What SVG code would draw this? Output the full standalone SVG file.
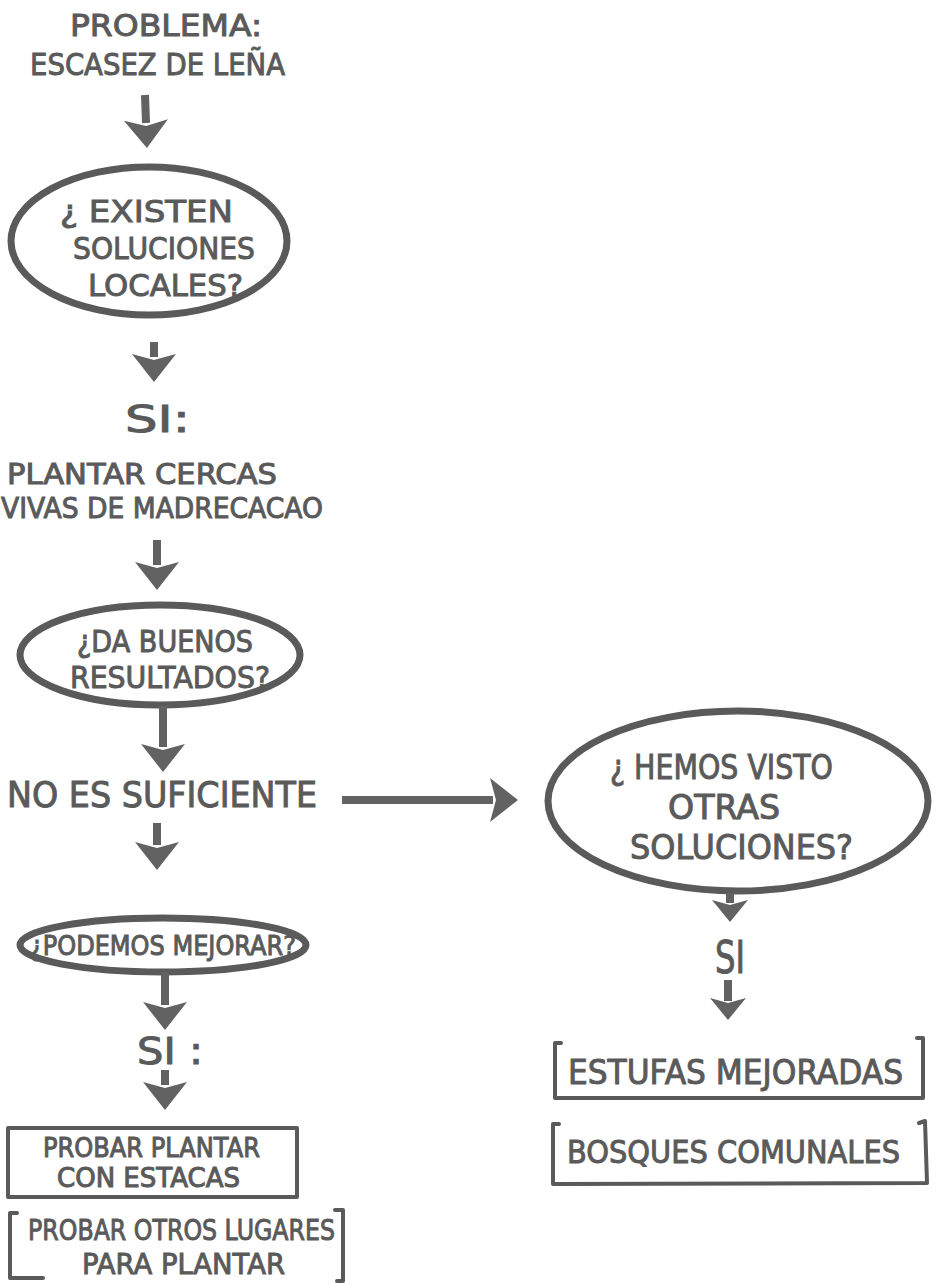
<svg xmlns="http://www.w3.org/2000/svg" width="936" height="1283" viewBox="0 0 936 1283">
<style>
.t{font-family:"DejaVu Sans","Liberation Sans",sans-serif;fill:#5a5a5a;stroke:#5a5a5a;stroke-width:1}
.ell{fill:none;stroke:#5a5a5a;stroke-width:7}
.box{fill:none;stroke:#5a5a5a;stroke-width:4;stroke-linecap:round;stroke-linejoin:round}
.arr{stroke:#626262;stroke-width:8;fill:none}
</style>
<defs>
<marker id="ah" markerUnits="userSpaceOnUse" markerWidth="32" markerHeight="46" refX="3" refY="23" orient="auto">
<path d="M0,1 L28,23 L0,45 L6,23 Z" fill="#626262"/>
</marker>
<marker id="ahs" markerUnits="userSpaceOnUse" markerWidth="26" markerHeight="38" refX="3" refY="19" orient="auto">
<path d="M0,1 L22,19 L0,37 L5,19 Z" fill="#626262"/>
</marker>
</defs>
<rect width="936" height="1283" fill="#ffffff"/>

<g id="n-problema">
<text class="t" x="70" y="36" font-size="31" textLength="192" lengthAdjust="spacingAndGlyphs">PROBLEMA:</text>
<text class="t" x="30" y="75" font-size="31" textLength="255" lengthAdjust="spacingAndGlyphs">ESCASEZ DE LEÑA</text>
</g>

<g id="n-existen">
<ellipse class="ell" cx="149" cy="241" rx="138" ry="74"/>
<text class="t" x="60" y="222" font-size="31" textLength="173" lengthAdjust="spacingAndGlyphs">¿ EXISTEN</text>
<text class="t" x="73" y="259" font-size="31" textLength="182" lengthAdjust="spacingAndGlyphs">SOLUCIONES</text>
<text class="t" x="88" y="296" font-size="31" textLength="155" lengthAdjust="spacingAndGlyphs">LOCALES?</text>
</g>

<g id="n-si1">
<text class="t" x="125" y="432" font-size="38" textLength="65" lengthAdjust="spacingAndGlyphs">SI:</text>
</g>

<g id="n-plantar">
<text class="t" x="7" y="484" font-size="28" textLength="270" lengthAdjust="spacingAndGlyphs">PLANTAR CERCAS</text>
<text class="t" x="1" y="518" font-size="28" textLength="322" lengthAdjust="spacingAndGlyphs">VIVAS DE MADRECACAO</text>
</g>

<g id="n-buenos">
<ellipse class="ell" cx="160" cy="655" rx="140" ry="50"/>
<text class="t" x="77" y="652" font-size="30" textLength="176" lengthAdjust="spacingAndGlyphs">¿DA BUENOS</text>
<text class="t" x="70" y="688" font-size="30" textLength="200" lengthAdjust="spacingAndGlyphs">RESULTADOS?</text>
</g>

<g id="n-nosuf">
<text class="t" x="7" y="807" font-size="36" textLength="310" lengthAdjust="spacingAndGlyphs">NO ES SUFICIENTE</text>
</g>

<g id="n-podemos">
<ellipse class="ell" cx="163" cy="945" rx="143" ry="27"/>
<text class="t" x="30" y="955" font-size="27" textLength="266" lengthAdjust="spacingAndGlyphs">¿PODEMOS MEJORAR?</text>
</g>

<g id="n-si2">
<text class="t" x="137" y="1064" font-size="38" textLength="66" lengthAdjust="spacingAndGlyphs">SI :</text>
</g>

<g id="n-estacas">
<rect class="box" x="8" y="1128" width="289" height="69"/>
<text class="t" x="43" y="1157" font-size="26" textLength="217" lengthAdjust="spacingAndGlyphs">PROBAR PLANTAR</text>
<text class="t" x="57" y="1187" font-size="26" textLength="183" lengthAdjust="spacingAndGlyphs">CON ESTACAS</text>
</g>

<g id="n-lugares">
<path class="box" d="M17,1213 L10,1213 L10,1278 L43,1278"/>
<path class="box" d="M335,1210 L343,1210 L343,1281 L337,1281"/>
<text class="t" x="28" y="1240" font-size="29" textLength="307" lengthAdjust="spacingAndGlyphs">PROBAR OTROS LUGARES</text>
<text class="t" x="82" y="1274" font-size="29" textLength="203" lengthAdjust="spacingAndGlyphs">PARA PLANTAR</text>
</g>

<g id="n-hemos">
<ellipse class="ell" cx="738" cy="801" rx="190" ry="90"/>
<text class="t" x="610" y="779" font-size="34" textLength="223" lengthAdjust="spacingAndGlyphs">¿ HEMOS VISTO</text>
<text class="t" x="668" y="819" font-size="34" textLength="112" lengthAdjust="spacingAndGlyphs">OTRAS</text>
<text class="t" x="630" y="859" font-size="34" textLength="223" lengthAdjust="spacingAndGlyphs">SOLUCIONES?</text>
</g>

<g id="n-si3">
<text class="t" x="715" y="973" font-size="44" textLength="30" lengthAdjust="spacingAndGlyphs">SI</text>
</g>

<g id="n-estufas">
<path class="box" d="M561,1043 L555,1043 L555,1098 L923,1098 L923,1038 L917,1038"/>
<text class="t" x="568" y="1084" font-size="34" textLength="335" lengthAdjust="spacingAndGlyphs">ESTUFAS MEJORADAS</text>
</g>

<g id="n-bosques">
<path class="box" d="M559,1124 L553,1124 L553,1184 L927,1183 L925,1121 L919,1123"/>
<text class="t" x="567" y="1163" font-size="32" textLength="333" lengthAdjust="spacingAndGlyphs">BOSQUES COMUNALES</text>
</g>

<g id="connectors">
<line class="arr" x1="145" y1="95" x2="146" y2="123" marker-end="url(#ah)"/>
<line class="arr" x1="154" y1="342" x2="154" y2="357" marker-end="url(#ah)"/>
<line class="arr" x1="157" y1="540" x2="157" y2="565" marker-end="url(#ah)"/>
<line class="arr" x1="163" y1="706" x2="163" y2="747" marker-end="url(#ah)"/>
<line class="arr" x1="157" y1="823" x2="157" y2="845" marker-end="url(#ah)"/>
<line class="arr" x1="165" y1="972" x2="165" y2="1005" marker-end="url(#ah)"/>
<line class="arr" x1="165" y1="1070" x2="165" y2="1085" marker-end="url(#ah)"/>
<line class="arr" x1="342" y1="800" x2="493" y2="800" marker-end="url(#ah)"/>
<line class="arr" x1="730" y1="893" x2="730" y2="903" stroke-width="6" marker-end="url(#ahs)"/>
<line class="arr" x1="728" y1="980" x2="728" y2="1001" marker-end="url(#ahs)"/>
</g>
</svg>
